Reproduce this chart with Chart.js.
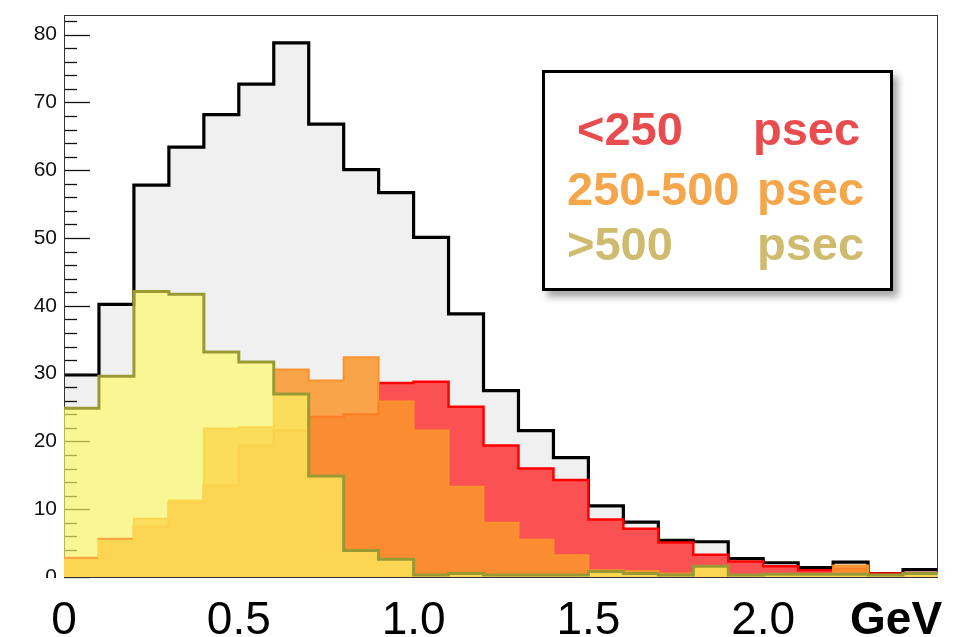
<!DOCTYPE html>
<html>
<head>
<meta charset="utf-8">
<title>Momentum distribution by time resolution</title>
<script src="https://cdn.jsdelivr.net/npm/chart.js@4.4.1/dist/chart.umd.min.js"></script>
<style>
    html, body { margin: 0; padding: 0; background: #fff; }
    #wrap { position: relative; width: 972px; height: 637px; overflow: hidden; }
    #legendBox {
        position: absolute; left: 542px; top: 70px; width: 351px; height: 221px;
        box-sizing: border-box; border: 3px solid #000; background: #fff;
        box-shadow: 5px 6px 7px rgba(0, 0, 0, 0.35);
    }
    .lg {
        position: absolute; white-space: nowrap;
        font: bold 47px "Liberation Sans", Arial, Helvetica, sans-serif; line-height: 47px;
    }
    .red { color: #e84c4f; }
    .orange { color: #f5a54a; }
    .khaki { color: #cfbb6e; }
</style>
</head>
<body>
<div id="wrap">
    <canvas id="chart" width="972" height="637"></canvas>
    <div id="legendBox"></div>
    <span class="lg red" style="left:577px; top:105px">&lt;250</span>
    <span class="lg red" style="left:753px; top:105px">psec</span>
    <span class="lg orange" style="left:567px; top:165px">250-500</span>
    <span class="lg orange" style="left:757px; top:165px">psec</span>
    <span class="lg khaki" style="left:567px; top:220px">&gt;500</span>
    <span class="lg khaki" style="left:757px; top:220px">psec</span>
</div>
<script>
// --- Data -------------------------------------------------------------------------------------------
// Bin edges in GeV (25 bins, 0.1 GeV wide)
const binEdges = [0.0, 0.1, 0.2, 0.3, 0.4, 0.5, 0.6, 0.7, 0.8, 0.9, 1.0, 1.1, 1.2,
                  1.3, 1.4, 1.5, 1.6, 1.7, 1.8, 1.9, 2.0, 2.1, 2.2, 2.3, 2.4, 2.5]

// Entries per bin
const allTracks    = [29.8, 40.2, 57.8, 63.4, 68.2, 72.7, 78.8, 66.8, 60.1, 56.7, 50.1, 38.8, 27.5,
                      21.6, 17.6, 10.5, 8.1, 5.4, 5.2, 2.7, 2.1, 1.4, 2.2, 0.5, 1.1]
const under250     = [2.8, 5.6, 7.4, 10.9, 13.5, 19.4, 21.6, 23.6, 24.0, 28.6, 28.8, 25.1, 19.4,
                      16.0, 14.3, 8.5, 7.1, 5.1, 3.3, 2.3, 1.6, 1.0, 1.2, 0.5, 0.6]
const from250to500 = [2.5, 5.3, 8.6, 11.3, 21.9, 22.1, 30.6, 29.0, 32.4, 25.9, 21.6, 13.3, 8.0,
                      5.5, 3.2, 1.0, 0.9, 0.5, 1.5, 0.3, 0.3, 0.3, 1.7, 0.2, 0.3]
const over500      = [24.9, 29.6, 42.1, 41.7, 33.2, 31.7, 27.0, 14.9, 3.9, 2.6, 0.3, 0.5, 0.3,
                      0.3, 0.3, 0.8, 0.5, 0.3, 1.6, 0.3, 0.4, 0.4, 0.4, 0.3, 0.5]

// Axis ticks
const yTickValues = [0, 10, 20, 30, 40, 50, 60, 70, 80]
const xTickValues = [0, 0.5, 1.0, 1.5, 2.0, 2.38]
const xTickLabels = ['0', '0.5', '1.0', '1.5', '2.0', 'GeV']
const yMax = 82.9


// --- Helpers ----------------------------------------------------------------------------------------
// Turn bin contents into step points on the bin edges (last value repeated on the closing edge)
function toSteps(values) {
    return binEdges.map((x, i) => ({ x: x, y: values[Math.min(i, values.length - 1)] }))
}

function histDataset(label, values, fillColor, lineColor, lineWidth, order) {
    return {
        label: label,
        data: toSteps(values),
        stepped: true,
        fill: 'origin',
        backgroundColor: fillColor,
        borderColor: lineColor,
        borderWidth: lineWidth,
        borderJoinStyle: 'miter',
        pointRadius: 0,
        order: order
    }
}

// Inward ticks on the left axis + the frame, drawn just after the total histogram
// so the coloured (partly transparent) histograms lie on top of them
const frameTicks = {
    id: 'frameTicks',
    afterDatasetDraw(chart, args) {
        if (args.index !== 0) return
        const { ctx, chartArea: area, scales: { y } } = chart
        ctx.save()
        ctx.strokeStyle = '#111'
        ctx.lineWidth = 1.3
        for (let v = 0; v <= yMax; v += 2) {
            const py = Math.round(y.getPixelForValue(v)) + 0.5
            const len = v % 10 === 0 ? 26 : 13
            ctx.beginPath()
            ctx.moveTo(area.left, py)
            ctx.lineTo(area.left + len, py)
            ctx.stroke()
        }
        ctx.strokeStyle = '#333'
        ctx.lineWidth = 1
        ctx.strokeRect(area.left + 0.5, area.top + 0.5, area.right - area.left - 1, area.bottom - area.top)
        ctx.restore()
    },
    afterDraw(chart) {
        // the lower half of the "0" on the y axis is hidden under the x label strip
        const { ctx, chartArea: area } = chart
        ctx.save()
        ctx.fillStyle = '#fff'
        ctx.fillRect(0, area.bottom + 1, area.left - 1, 20)
        ctx.restore()
    }
}


// --- Chart ------------------------------------------------------------------------------------------
Chart.defaults.font.family = '"Liberation Sans", Arial, Helvetica, sans-serif'

new Chart(document.getElementById('chart'), {
    type: 'line',
    data: {
        datasets: [
            histDataset('all', allTracks, '#f0f0f0', '#000000', 3.2, 4),
            histDataset('<250 psec', under250, 'rgb(250,82,82)', '#ff0000', 2.5, 3),
            histDataset('250-500 psec', from250to500, 'rgba(251,150,45,0.85)', 'rgb(250,146,46)', 2, 2),
            histDataset('>500 psec', over500, 'rgba(252,250,100,0.66)', '#9a9a35', 3, 1)
        ]
    },
    options: {
        responsive: false,
        animation: false,
        devicePixelRatio: 1,
        events: [],
        layout: { padding: { top: 15, right: 34, left: 0, bottom: 0 } },
        plugins: {
            legend: { display: false },
            tooltip: { enabled: false }
        },
        scales: {
            x: {
                type: 'linear',
                position: 'bottom',
                min: 0,
                max: 2.5,
                grid: { display: false, drawTicks: false },
                border: { display: false },
                afterBuildTicks: scale => { scale.ticks = xTickValues.map(v => ({ value: v })) },
                afterFit: scale => {
                    scale.height = 60
                    scale.paddingLeft = 0
                    scale.paddingRight = 0
                },
                ticks: {
                    autoSkip: false,
                    maxRotation: 0,
                    minRotation: 0,
                    padding: 17,
                    color: '#000',
                    font: ctx => ctx.index === xTickLabels.length - 1
                        ? { size: 46, weight: 'bold', lineHeight: 1.2 }
                        : { size: 46, weight: 'normal', lineHeight: 1.2 },
                    callback: (value, index) => xTickLabels[index]
                }
            },
            y: {
                min: 0,
                max: yMax,
                grid: { display: false, drawTicks: false },
                border: { display: false },
                afterBuildTicks: scale => { scale.ticks = yTickValues.map(v => ({ value: v })) },
                afterFit: scale => {
                    scale.width = 64
                    scale.paddingTop = 0
                    scale.paddingBottom = 0
                },
                ticks: {
                    padding: 7,
                    color: '#111',
                    font: { size: 21 },
                    callback: value => String(value)
                }
            }
        }
    },
    plugins: [frameTicks]
})
</script>
</body>
</html>
